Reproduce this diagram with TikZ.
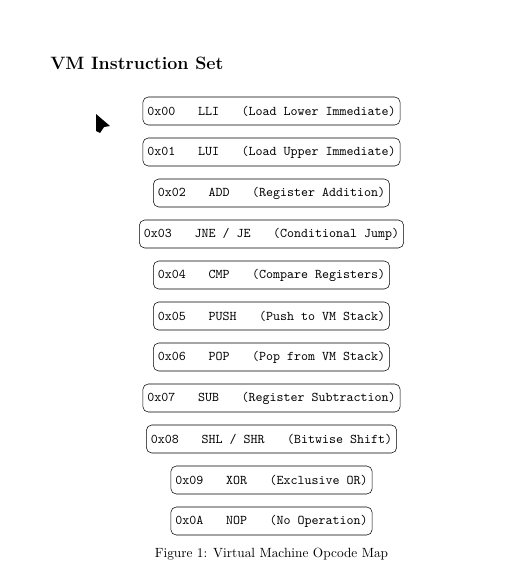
\documentclass[tikz,border=0pt]{standalone}
\usepackage{amsmath}
\usepackage{xcolor}
\usepackage{tikz}
\usetikzlibrary{calc}

\newcommand{\opgap}{\hspace{17pt}}

\begin{document}
\begin{tikzpicture}[x=0.75pt,y=-0.75pt,node distance=30.75pt]
      \tikzstyle{opbox}=[draw,rounded corners=4pt,minimum height=21pt,font=\ttfamily]
      \useasboundingbox (0,0) rectangle (526,585);
      \node[anchor=base west,inner sep=0pt,font=\fontsize{13.4}{16}\selectfont\bfseries] (title) at (50,69.5) {VM Instruction Set};
      \fill (96,114) -- (110,126) -- (104,127) -- (100,133) -- (96,131) -- cycle;

      \node[opbox] (LLI)  at (271.5,111)  {0x00\opgap LLI\opgap (Load Lower Immediate)};
      \node[opbox] (LUI)  [below of=LLI]  {0x01\opgap LUI\opgap (Load Upper Immediate)};
      \node[opbox] (ADD)  [below of=LUI]  {0x02\opgap ADD\opgap (Register Addition)};
      \node[opbox] (JNE)  [below of=ADD]  {0x03\opgap JNE / JE\opgap (Conditional Jump)};
      \node[opbox] (CMP)  [below of=JNE]  {0x04\opgap CMP\opgap (Compare Registers)};
      \node[opbox] (PUSH) [below of=CMP]  {0x05\opgap PUSH\opgap (Push to VM Stack)};
      \node[opbox] (POP)  [below of=PUSH] {0x06\opgap POP\opgap (Pop from VM Stack)};
      \node[opbox] (SUB)  [below of=POP]  {0x07\opgap SUB\opgap (Register Subtraction)};
      \node[opbox] (SHL)  [below of=SUB]  {0x08\opgap SHL / SHR\opgap (Bitwise Shift)};
      \node[opbox] (XOR)  [below of=SHL]  {0x09\opgap XOR\opgap (Exclusive OR)};
      \node[opbox] (NOP)  [below of=XOR]  {0x0A\opgap NOP\opgap (No Operation)};

      \node[anchor=base] (caption) at (271.5,557) {Figure 1: Virtual Machine Opcode Map};
    \end{tikzpicture}
\end{document}
